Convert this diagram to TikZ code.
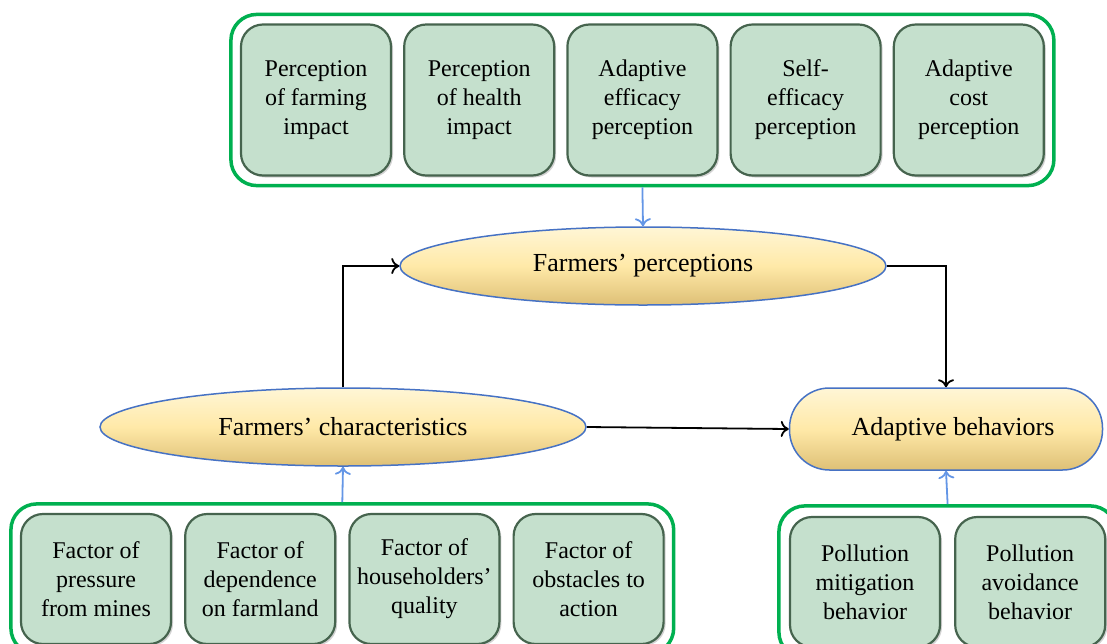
\documentclass[tikz,border=0pt]{standalone}
\usepackage{fontspec}
\setmainfont{Liberation Serif}
\usetikzlibrary{shapes.geometric,arrows.meta,fit,positioning,shadows}

\definecolor{framegreen}{RGB}{0,176,80}
\definecolor{boxgreen}{RGB}{197,224,205}
\definecolor{boxedge}{RGB}{70,100,78}
\definecolor{ovalfill}{RGB}{255,233,168}
\definecolor{ovaltop}{RGB}{255,246,214}
\definecolor{ovalbottom}{RGB}{222,192,118}
\definecolor{ovaledge}{RGB}{70,114,196}
\definecolor{linkblue}{RGB}{100,150,230}

\tikzstyle{factorbox}=[draw=boxedge, line width=2.2pt, fill=boxgreen, rounded corners=22pt,
  minimum width=150pt, align=center, font=\fontsize{24}{29}\selectfont,
  drop shadow={shadow xshift=2pt, shadow yshift=-2pt, opacity=0.35}]
\tikzstyle{outerframe}=[draw=framegreen, line width=3.5pt, rounded corners=26pt, inner sep=9pt]
\tikzstyle{mainoval}=[draw=ovaledge, line width=1.5pt, top color=ovaltop, bottom color=ovalbottom,
  middle color=ovalfill, font=\fontsize{26}{30}\selectfont, inner sep=0pt]
\tikzstyle{flowline}=[line width=1.8pt, -{To[length=8pt,width=16pt]}]
\tikzstyle{feedline}=[linkblue, line width=1.8pt, -{To[length=8pt,width=16pt]}]

\begin{document}
\begin{tikzpicture}[x=1pt,y=-1pt]
\useasboundingbox (0,0) rectangle (1107,643);
\clip (0,0) rectangle (1107,643);

% perception factors
\node[factorbox, minimum height=151pt] (p1) at (316,100) {Perception\\of farming\\impact};
\node[factorbox, minimum height=151pt, right=11pt of p1] (p2) {Perception\\of health\\impact};
\node[factorbox, minimum height=151pt, right=11pt of p2] (p3) {Adaptive\\efficacy\\perception};
\node[factorbox, minimum height=151pt, right=11pt of p3] (p4) {Self-\\efficacy\\perception};
\node[factorbox, minimum height=151pt, right=11pt of p4] (p5) {Adaptive\\cost\\perception};
\node[outerframe, fit=(p1) (p5)] (topframe) {};

% characteristic factors
\node[factorbox, minimum height=130pt] (f1) at (96,579) {Factor of\\pressure\\from mines};
\node[factorbox, minimum height=130pt, right=12pt of f1] (f2) {Factor of\\dependence\\on farmland};
\node[factorbox, minimum height=130pt, right=12pt of f2] (f3) {Factor of\\householders’\\quality};
\node[factorbox, minimum height=130pt, right=12pt of f3] (f4) {Factor of\\obstacles to\\action};
\node[outerframe, fit=(f1) (f4)] (leftframe) {};

% behaviors
\node[factorbox, minimum height=130pt] (b1) at (865,582) {Pollution\\mitigation\\behavior};
\node[factorbox, minimum height=130pt, right=13pt of b1] (b2) {Pollution\\avoidance\\behavior};
\node[outerframe, inner sep=10pt, fit=(b1) (b2)] (rightframe) {};

% main concepts
\node[mainoval, ellipse, minimum width=486pt, minimum height=78pt] (perc) at (643,266) {Farmers’ perceptions};
\node[mainoval, ellipse, minimum width=486pt, minimum height=78pt] (charac) at (343,427) {Farmers’ characteristics};
\node[mainoval, rounded corners=40pt, minimum width=313pt, minimum height=82pt] (beh) at (946,429) {\hspace*{14pt}Adaptive behaviors};

% links
\draw[feedline] (topframe.south) -- (perc.north);
\draw[feedline] (leftframe.north) -- (charac.south);
\draw[feedline] (rightframe.north) -- (beh.south);
\draw[flowline] (charac.north) |- (perc.west);
\draw[flowline] (perc.east) -| (beh.north);
\draw[flowline] (charac.east) -- (beh.west);
\end{tikzpicture}
\end{document}
